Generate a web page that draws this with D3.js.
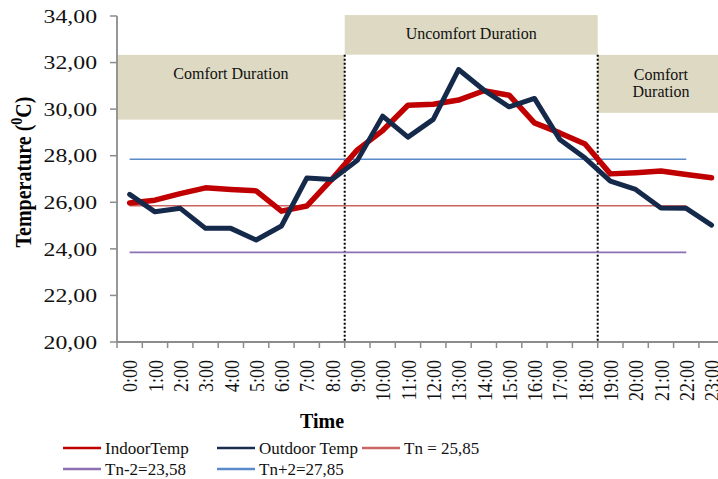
<!DOCTYPE html>
<html><head><meta charset="utf-8">
<script src="https://cdn.jsdelivr.net/npm/d3@7"></script>
<style>html,body{margin:0;padding:0;background:#fff;overflow:hidden}svg{display:block;font-family:"Liberation Serif","Times New Roman",serif}</style>
</head><body>
<script>
const hours = ["0:00","1:00","2:00","3:00","4:00","5:00","6:00","7:00","8:00","9:00","10:00","11:00","12:00","13:00","14:00","15:00","16:00","17:00","18:00","19:00","20:00","21:00","22:00","23:00"];
const indoorTemp = [25.97,26.09,26.37,26.62,26.55,26.49,25.62,25.84,27.00,28.25,29.08,30.17,30.21,30.39,30.79,30.60,29.41,28.98,28.50,27.22,27.27,27.34,27.19,27.05];
const outdoorTemp = [26.34,25.59,25.74,24.88,24.88,24.38,24.98,27.04,26.98,27.80,29.70,28.80,29.56,31.70,30.82,30.10,30.46,28.70,27.90,26.91,26.55,25.75,25.74,25.02];
const tn = 25.85, tnMinus2 = 23.85, tnPlus2 = 27.85;
const refHours = hours.slice(0, 23);
const yTicks = [20,22,24,26,28,30,32,34];
const durations = [
  {label:["Comfort Duration"], from:"0:00", to:"8:00", top:32.33, bottom:29.55},
  {label:["Uncomfort Duration"], from:"9:00", to:"18:00", top:34.04, bottom:32.34},
  {label:["Comfort","Duration"], from:"19:00", to:"23:00", top:32.33, bottom:29.84}
];
const dividers = ["9:00","19:00"];
const legendItems = [
  {name:"IndoorTemp", color:"#c00000"},
  {name:"Outdoor Temp", color:"#1b2d4f"},
  {name:"Tn = 25,85", color:"#cc6464"},
  {name:"Tn-2=23,58", color:"#8c6fb5"},
  {name:"Tn+2=27,85", color:"#5a8ac9"}
];

const W = 718, H = 479;
const svg = d3.select("body").append("svg").attr("width", W).attr("height", H);
const x = d3.scaleBand().domain(hours).range([117, 724.2]).paddingInner(0).paddingOuter(0);
const y = d3.scaleLinear().domain([20,34]).range([342,16]);
const cx = h => x(h) + x.bandwidth()/2;

// duration boxes
durations.forEach(d => {
  const x0 = x(d.from), x1 = x(d.to) + x.bandwidth();
  svg.append("rect").attr("x", x0).attr("y", y(d.top)).attr("width", x1 - x0)
    .attr("height", y(d.bottom) - y(d.top)).attr("fill", "#ddd9c3");
  const mx = (x0 + x1)/2;
  const t = svg.append("text").attr("text-anchor","middle").attr("font-size",16).attr("fill","#111");
  if (d.label.length === 1) {
    t.attr("x", mx).attr("y", y(d.top) + 24).text(d.label[0]);
  } else {
    d.label.forEach((l,i) => t.append("tspan").attr("x", mx).attr("y", y(d.top) + 25 + i*17).text(l));
  }
});

// dividers
dividers.forEach(h => {
  svg.append("line").attr("x1", x(h)).attr("x2", x(h)).attr("y1", y(32.34)).attr("y2", y(20))
    .attr("stroke","#000").attr("stroke-width",2).attr("stroke-dasharray","2,2");
});

// reference lines
const line = d3.line().x(d => cx(d.h)).y(d => y(d.v));
[[tnMinus2, legendItems[3].color],[tn, legendItems[2].color],[tnPlus2, legendItems[4].color]].forEach(([v,c]) => {
  svg.append("path").attr("d", line(refHours.map(h => ({h, v})))).attr("fill","none")
    .attr("stroke", c).attr("stroke-width", 1.6);
});

// series
svg.append("path").attr("d", line(hours.map((h,i) => ({h, v: indoorTemp[i]}))))
  .attr("fill","none").attr("stroke","#c00000").attr("stroke-width",5.5).attr("stroke-linejoin","round").attr("stroke-linecap","round");
svg.append("path").attr("d", line(hours.map((h,i) => ({h, v: outdoorTemp[i]}))))
  .attr("fill","none").attr("stroke","#15294b").attr("stroke-width",5).attr("stroke-linejoin","round").attr("stroke-linecap","round");

// axes
const axisColor = "#8c8c8c";
svg.append("line").attr("x1",117).attr("x2",117).attr("y1",y(34)).attr("y2",y(20)).attr("stroke",axisColor).attr("stroke-width",1.8);
svg.append("line").attr("x1",117).attr("x2",724).attr("y1",y(20)).attr("y2",y(20)).attr("stroke",axisColor).attr("stroke-width",1.8);
yTicks.forEach(v => {
  svg.append("line").attr("x1",110).attr("x2",117).attr("y1",y(v)).attr("y2",y(v)).attr("stroke",axisColor).attr("stroke-width",1.5);
  svg.append("text").attr("transform",`translate(97,${y(v)}) scale(1.25,1)`).attr("text-anchor","end")
    .attr("dy","0.35em").attr("font-size",19).attr("fill","#111").text(d3.format(".2f")(v).replace(".",","));
});
hours.forEach(h => {
  svg.append("line").attr("x1",x(h)).attr("x2",x(h)).attr("y1",y(20)).attr("y2",y(20)+6).attr("stroke",axisColor).attr("stroke-width",1.5);
  svg.append("text").attr("transform",`translate(${cx(h)},360) scale(1.22,1) rotate(-90)`).attr("text-anchor","end")
    .attr("dy","0.35em").attr("font-size",18).attr("fill","#111").text(h);
});
svg.append("line").attr("x1",x("23:00")+x.bandwidth()).attr("x2",x("23:00")+x.bandwidth()).attr("y1",y(20)).attr("y2",y(20)+6).attr("stroke",axisColor);

// axis titles
svg.append("text").attr("x",322).attr("y",428).attr("text-anchor","middle").attr("font-size",20).attr("font-weight","bold").attr("fill","#000").text("Time");
const yt = svg.append("text").attr("transform","translate(31,172) scale(1.15,1) rotate(-90)").attr("text-anchor","middle")
  .attr("font-size",20).attr("font-weight","bold").attr("fill","#000");
yt.append("tspan").text("Temperature (");
yt.append("tspan").attr("dy",-8).attr("font-size",14).text("0");
yt.append("tspan").attr("dy",8).text("C)");

// legend
const legendPos = [[63,448],[217,448],[362,448],[63,469],[217,469]];
legendItems.forEach((it,i) => {
  const [lx,ly] = legendPos[i];
  svg.append("line").attr("x1",lx).attr("x2",lx+38).attr("y1",ly).attr("y2",ly).attr("stroke",it.color).attr("stroke-width",2.5);
  svg.append("text").attr("x",lx+42).attr("y",ly).attr("dy","0.33em").attr("font-size",17).attr("fill","#111").text(it.name);
});
</script>
</body></html>
